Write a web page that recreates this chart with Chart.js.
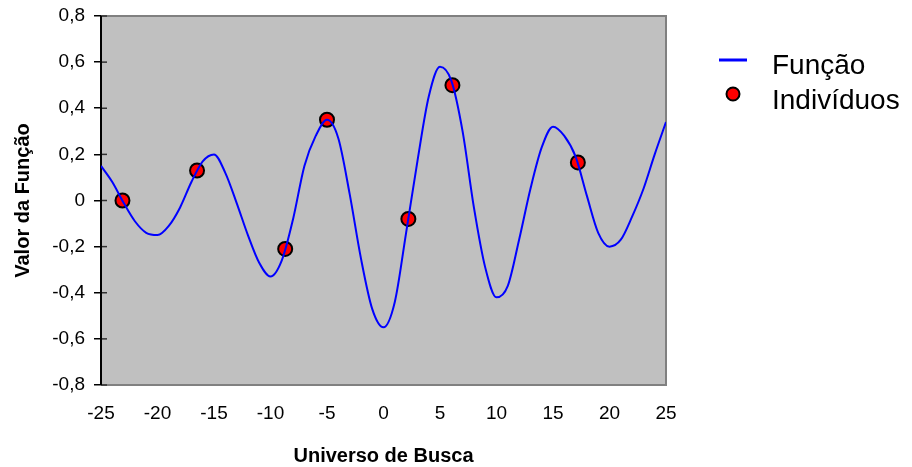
<!DOCTYPE html>
<html>
<head>
<meta charset="utf-8">
<script src="https://cdn.jsdelivr.net/npm/chart.js@4.4.0/dist/chart.umd.min.js"></script>
<style>
    html, body { margin: 0; padding: 0; background: #ffffff; }
    #wrap { width: 912px; height: 467px; }
</style>
</head>
<body>
<div id="wrap"><canvas id="chart"></canvas></div>
<script>
// function curve (x, y)
const funcX = [-25, -24, -23, -22, -21, -20, -19, -18, -17, -16, -15, -14, -13, -12, -11, -10, -9, -8, -7, -6, -5, -4, -3, -2, -1,
    0, 1, 2, 3, 4, 5, 6, 7, 8, 9, 10, 11, 12, 13, 14, 15, 16, 17, 18, 19, 20, 21, 22, 23, 24, 25];
const funcY = [0.15, 0.08, -0.01, -0.09, -0.14, -0.15, -0.11, -0.03, 0.08, 0.17, 0.20, 0.12, -0.01, -0.15, -0.27, -0.33, -0.26, -0.08, 0.15, 0.28, 0.35, 0.27, 0.03, -0.25, -0.47,
    -0.55, -0.44, -0.14, 0.17, 0.45, 0.58, 0.52, 0.30, -0.03, -0.29, -0.42, -0.37, -0.17, 0.05, 0.23, 0.32, 0.28, 0.19, 0.02, -0.14, -0.20, -0.17, -0.07, 0.05, 0.20, 0.34];

// individuals
const indX = [-23.1, -16.5, -8.7, -5.0, 2.2, 6.1, 17.2];
const indY = [0.0, 0.13, -0.21, 0.35, -0.08, 0.50, 0.165];

const legendLabels = ['Função', 'Indivíduos'];
const xTitle = 'Universo de Busca';
const yTitle = 'Valor da Função';

const FONT = '"Liberation Sans", Arial, sans-serif';

const plotBg = {
    id: 'plotBg',
    beforeDatasetsDraw(chart) {
        const { ctx, chartArea: a } = chart;
        const yScale = chart.scales.y;
        ctx.save();
        ctx.fillStyle = '#c0c0c0';
        ctx.fillRect(a.left, a.top, a.right - a.left, a.bottom - a.top);
        ctx.strokeStyle = '#808080';
        ctx.lineWidth = 2;
        ctx.beginPath();
        ctx.moveTo(a.left, a.top);
        ctx.lineTo(a.right, a.top);
        ctx.lineTo(a.right, a.bottom);
        ctx.lineTo(a.left, a.bottom);
        ctx.stroke();
        // inner half of the y tick marks
        ctx.strokeStyle = '#303030';
        ctx.lineWidth = 1.5;
        yScale.ticks.forEach(t => {
            const py = yScale.getPixelForValue(t.value);
            ctx.beginPath();
            ctx.moveTo(a.left, py);
            ctx.lineTo(a.left + 6, py);
            ctx.stroke();
        });
        ctx.strokeStyle = '#000000';
        ctx.lineWidth = 2;
        ctx.beginPath();
        ctx.moveTo(a.left, a.top);
        ctx.lineTo(a.left, a.bottom);
        ctx.stroke();
        ctx.restore();
    }
};

const sideLegend = {
    id: 'sideLegend',
    afterDraw(chart) {
        const { ctx } = chart;
        ctx.save();
        ctx.font = '28px ' + FONT;
        ctx.fillStyle = '#000000';
        ctx.textBaseline = 'middle';
        // line sample
        ctx.strokeStyle = '#0000ff';
        ctx.lineWidth = 3;
        ctx.beginPath();
        ctx.moveTo(719, 60);
        ctx.lineTo(747, 60);
        ctx.stroke();
        ctx.fillText(legendLabels[0], 772, 66);
        // point sample
        ctx.fillStyle = '#ff0000';
        ctx.strokeStyle = '#000000';
        ctx.lineWidth = 2;
        ctx.beginPath();
        ctx.arc(733, 94, 6.5, 0, Math.PI * 2);
        ctx.fill();
        ctx.stroke();
        ctx.fillStyle = '#000000';
        ctx.fillText(legendLabels[1], 772, 101);
        ctx.restore();
    }
};

new Chart(document.getElementById('chart').getContext('2d'), {
    type: 'scatter',
    data: {
        datasets: [{
            label: legendLabels[0],
            data: funcX.map((x, i) => ({ x: x, y: funcY[i] })),
            showLine: true,
            borderColor: '#0000ff',
            borderWidth: 2,
            pointRadius: 0,
            tension: 0.4,
            cubicInterpolationMode: 'monotone'
        }, {
            label: legendLabels[1],
            data: indX.map((x, i) => ({ x: x, y: indY[i] })),
            showLine: false,
            backgroundColor: '#ff0000',
            borderColor: '#000000',
            borderWidth: 2,
            pointRadius: 7
        }]
    },
    options: {
        responsive: true,
        maintainAspectRatio: false,
        animation: false,
        layout: { padding: { left: 0, right: 246, top: 16, bottom: 0 } },
        plugins: {
            legend: { display: false },
            tooltip: { enabled: false }
        },
        scales: {
            x: {
                type: 'linear',
                min: -25,
                max: 25,
                afterFit: function (scale) { scale.height = 82; },
                ticks: {
                    stepSize: 5,
                    color: '#000000',
                    padding: 17,
                    font: { family: FONT, size: 19 }
                },
                grid: { display: false, drawTicks: false },
                border: { display: false },
                title: {
                    display: true,
                    text: xTitle,
                    color: '#000000',
                    font: { family: FONT, size: 20, weight: 'bold' },
                    padding: { top: 0, bottom: -1 }
                }
            },
            y: {
                min: -0.8,
                max: 0.8,
                afterFit: function (scale) {
                    scale.width = 101;
                    scale.paddingTop = 0;
                    scale.paddingBottom = 0;
                },
                ticks: {
                    stepSize: 0.2,
                    color: '#000000',
                    padding: 9,
                    font: { family: FONT, size: 19 },
                    callback: function (v) {
                        const r = Math.round(v * 10) / 10;
                        return (r === 0 ? '0' : r.toFixed(1)).replace('.', ',');
                    }
                },
                grid: {
                    drawOnChartArea: false,
                    drawTicks: true,
                    tickLength: 7,
                    color: '#000000',
                    lineWidth: 1.5
                },
                border: { display: false },
                title: {
                    display: true,
                    text: yTitle,
                    color: '#000000',
                    font: { family: FONT, size: 20, weight: 'bold' },
                    padding: { top: 11, bottom: 0 }
                }
            }
        }
    },
    plugins: [plotBg, sideLegend]
});
</script>
</body>
</html>
